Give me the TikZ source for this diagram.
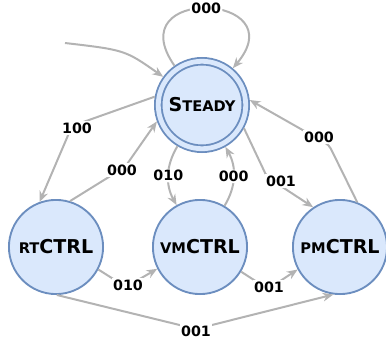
\documentclass[tikz,border=0pt]{standalone}
\usepackage{fontspec}
\setmainfont{DejaVu Sans}
\usepackage{xcolor}
\usetikzlibrary{arrows.meta, positioning, calc}
\definecolor{statefill}{HTML}{DAE8FC}
\definecolor{statedraw}{HTML}{6C8EBF}
\definecolor{edgegray}{HTML}{B3B3B3}
\newcommand{\smallcap}[1]{{\fontsize{11}{13}\selectfont #1}}

\begin{document}
\begin{tikzpicture}[x=0.75pt, y=0.75pt, >=Stealth,
    stnode/.style={circle, draw=statedraw, fill=statefill, line width=1.4pt, minimum size=70.6pt, inner sep=1pt, font=\fontsize{14.3}{17}\selectfont\bfseries},
    accepting/.style={double=statefill, double distance=3.6pt, minimum size=65.6pt, outer sep=3.2pt},
    edge/.style={draw=edgegray, line width=1.5pt, rounded corners=3pt, -{Stealth[length=8pt, width=6.5pt]}},
    lbl/.style={fill=white, inner sep=1pt, font=\fontsize{10.7}{12}\selectfont\bfseries}]
    \useasboundingbox (0,0) rectangle (386,-343);

    % states
    \node[stnode, accepting] (steady) at (202,-105) {S\smallcap{TEADY}};
    \node[stnode] (rt) at (56,-247) {\smallcap{RT}CTRL};
    \node[stnode] (vm) at (200,-247) {\smallcap{VM}CTRL};
    \node[stnode] (pm) at (340,-247) {\smallcap{PM}CTRL};

    % bends of the connectors
    \coordinate (start) at (65,-43);
    \coordinate (b100) at (72,-126);
    \coordinate (b000a) at (125,-167);
    \coordinate (b001a) at (267,-177);
    \coordinate (b000c) at (329,-145);
    \coordinate (b010) at (126,-287);
    \coordinate (b001b) at (268,-289);
    \coordinate (b001c) at (196,-329);

    % transitions
    \draw[edge] (start) .. controls (125,-50) .. (steady.144);
    \draw[edge] (steady) to[out=125, in=50, looseness=4.3] node[lbl] (l000top) {000} (steady);
    \draw[edge] (steady.170) -- (b100) -- (rt.110);
    \draw[edge] (rt.73) -- (b000a) -- (steady.200);
    \draw[edge] (steady) to[bend right=30] node[lbl] (l010a) {010} (vm);
    \draw[edge] (vm) to[bend right=30] node[lbl] (l000b) {000} (steady);
    \draw[edge] (steady.331) -- (b001a) -- (pm.124);
    \draw[edge] (pm.69) -- (b000c) -- (steady.6);
    \draw[edge] (rt.-28) -- (b010) -- (vm.207);
    \draw[edge] (vm.-31) -- (b001b) -- (pm.208);
    \draw[edge] (rt.-89) -- (b001c) -- (pm.262);

    % labels
    \node[lbl] (l100) at (77,-128) {100};
    \node[lbl] (l000a) at (122,-170) {000};
    \node[lbl] (l001a) at (281,-181) {001};
    \node[lbl] (l000c) at (319,-137) {000};
    \node[lbl] (l010b) at (128,-285) {010};
    \node[lbl] (l001b) at (269,-287) {001};
    \node[lbl] (l001c) at (196,-331) {001};
\end{tikzpicture}
\end{document}
